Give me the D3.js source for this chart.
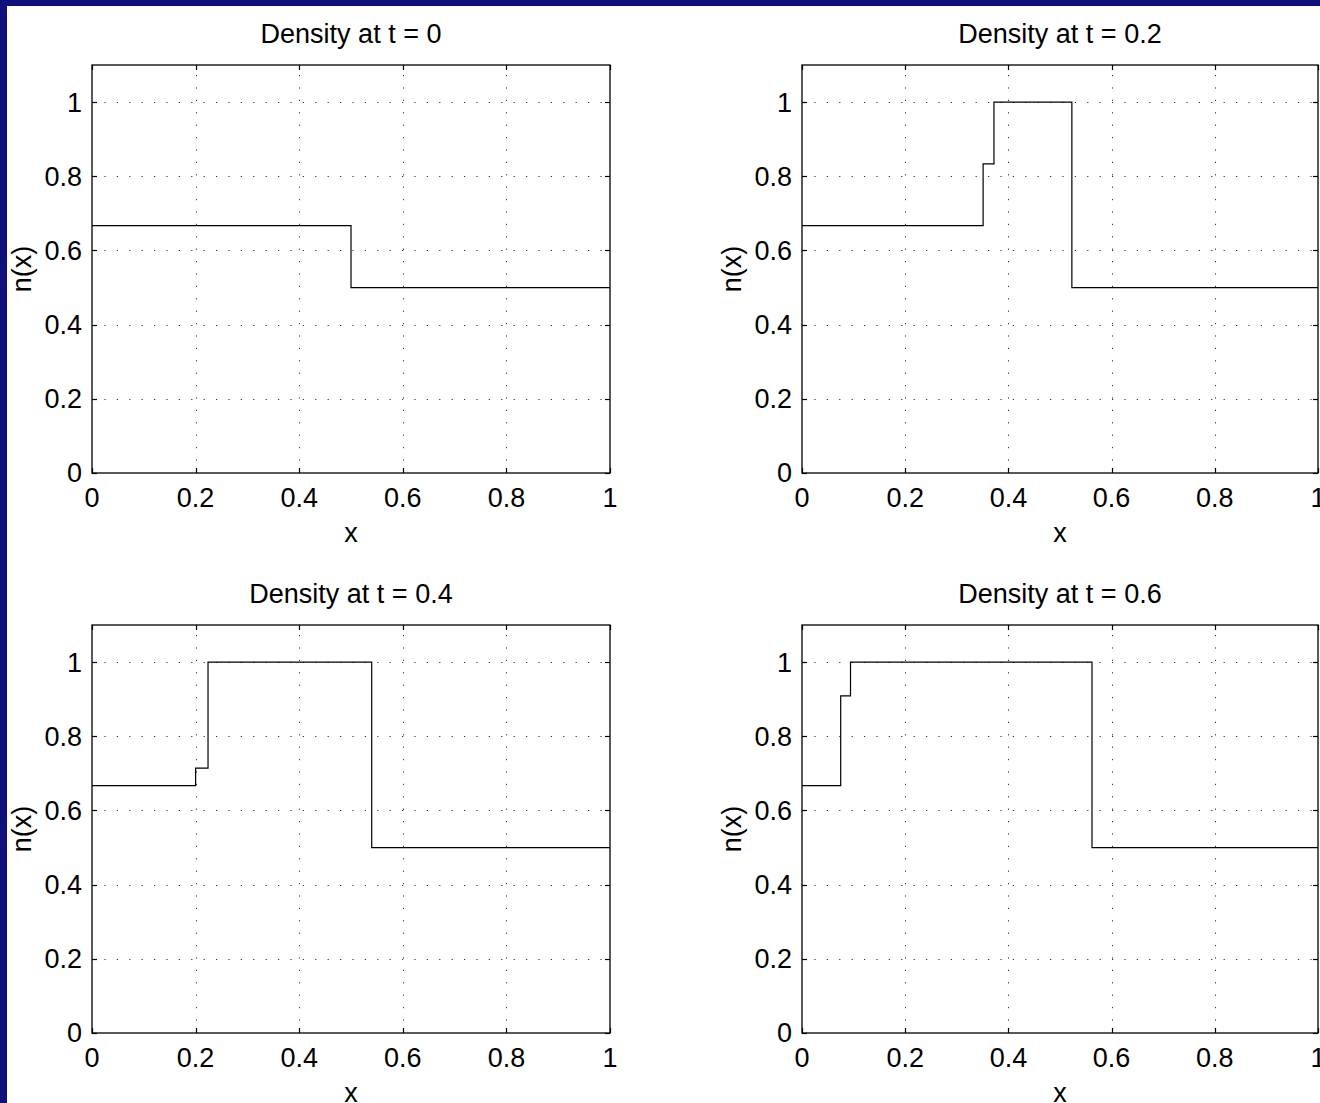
<!DOCTYPE html>
<html>
<head>
<meta charset="utf-8">
<script src="https://cdn.jsdelivr.net/npm/d3@7"></script>
<style>
  html, body { margin: 0; padding: 0; background: #10107a; }
  svg { display: block; }
  text { font-family: "Liberation Sans", Arial, Helvetica, sans-serif; fill: #000; }
</style>
</head>
<body>
<script>
// Piecewise-constant density profiles: breakpoints along x and the level on each interval
const titles = ["Density at t = 0", "Density at t = 0.2", "Density at t = 0.4", "Density at t = 0.6"];
const edges0 = [0, 0.5, 1];
const levels0 = [0.6667, 0.5];
const edges1 = [0, 0.351, 0.372, 0.523, 1];
const levels1 = [0.6667, 0.8333, 1, 0.5];
const edges2 = [0, 0.2, 0.224, 0.54, 1];
const levels2 = [0.6667, 0.7143, 1, 0.5];
const edges3 = [0, 0.075, 0.094, 0.562, 1];
const levels3 = [0.6667, 0.9091, 1, 0.5];
const xTicks = [0, 0.2, 0.4, 0.6, 0.8, 1];
const yTicks = [0, 0.2, 0.4, 0.6, 0.8, 1];
const xLabel = "x";
const yLabel = "n(x)";

const panels = [
  { title: titles[0], edges: edges0, levels: levels0 },
  { title: titles[1], edges: edges1, levels: levels1 },
  { title: titles[2], edges: edges2, levels: levels2 },
  { title: titles[3], edges: edges3, levels: levels3 }
];

const W = 1320, H = 1103;
const svg = d3.select("body").append("svg").attr("width", W).attr("height", H);

// navy frame: white figure area starts slightly inside the top-left corner
svg.append("rect").attr("x", 0).attr("y", 0).attr("width", W).attr("height", H).attr("fill", "#10107a");
svg.append("rect").attr("x", 7).attr("y", 6).attr("width", W - 7).attr("height", H - 6).attr("fill", "#fff");

// axes boxes in pixel coordinates: [left, right] per column, [top, bottom] per row
const cols = [[92, 610], [802, 1318]];
const rows = [[65, 473], [625, 1033]];
const FS = 27;

panels.forEach((p, i) => {
  const [x0, x1] = cols[i % 2];
  const [y0, y1] = rows[Math.floor(i / 2)];
  const x = d3.scaleLinear().domain([0, 1]).range([x0, x1]);
  const y = d3.scaleLinear().domain([0, 1.1]).range([y1, y0]);
  const g = svg.append("g");

  // dotted grid
  const grid = g.append("g").attr("stroke", "#333").attr("stroke-width", 1)
    .attr("stroke-dasharray", "1.2,11.2").attr("fill", "none");
  xTicks.slice(1, -1).forEach(t => {
    grid.append("line").attr("x1", Math.round(x(t)) + 0.5).attr("x2", Math.round(x(t)) + 0.5)
      .attr("y1", y1).attr("y2", y0);
  });
  yTicks.slice(1).forEach(t => {
    grid.append("line").attr("y1", Math.round(y(t)) + 0.5).attr("y2", Math.round(y(t)) + 0.5)
      .attr("x1", x0).attr("x2", x1);
  });

  // step profile
  const pts = p.levels.map((v, k) => [p.edges[k], v]);
  pts.push([p.edges[p.edges.length - 1], p.levels[p.levels.length - 1]]);
  const line = d3.line().x(d => x(d[0])).y(d => y(d[1])).curve(d3.curveStepAfter);
  g.append("path").datum(pts).attr("d", line)
    .attr("fill", "none").attr("stroke", "#000").attr("stroke-width", 1.2);

  // box
  g.append("rect").attr("x", x0).attr("y", y0).attr("width", x1 - x0).attr("height", y1 - y0)
    .attr("fill", "none").attr("stroke", "#000").attr("stroke-width", 1.3);

  // inward ticks on all four sides
  const TL = 5;
  const tk = g.append("g").attr("stroke", "#000").attr("stroke-width", 1.2);
  xTicks.forEach(t => {
    const px = Math.round(x(t)) + 0.5;
    tk.append("line").attr("x1", px).attr("x2", px).attr("y1", y1).attr("y2", y1 - TL);
    tk.append("line").attr("x1", px).attr("x2", px).attr("y1", y0).attr("y2", y0 + TL);
  });
  yTicks.forEach(t => {
    const py = Math.round(y(t)) + 0.5;
    tk.append("line").attr("y1", py).attr("y2", py).attr("x1", x0).attr("x2", x0 + TL);
    tk.append("line").attr("y1", py).attr("y2", py).attr("x1", x1).attr("x2", x1 - TL);
  });

  // tick labels
  xTicks.forEach(t => {
    g.append("text").attr("x", x(t)).attr("y", y1 + 34)
      .attr("text-anchor", "middle").attr("font-size", FS).text(d3.format("")(t));
  });
  yTicks.forEach(t => {
    g.append("text").attr("x", x0 - 10).attr("y", y(t)).attr("dy", "0.35em")
      .attr("text-anchor", "end").attr("font-size", FS).text(d3.format("")(t));
  });

  // title and axis labels
  g.append("text").attr("x", (x0 + x1) / 2).attr("y", y0 - 22)
    .attr("text-anchor", "middle").attr("font-size", FS).text(p.title);
  g.append("text").attr("x", (x0 + x1) / 2).attr("y", y1 + 69)
    .attr("text-anchor", "middle").attr("font-size", FS).text(xLabel);
  g.append("text").attr("transform", `translate(${x0 - 61},${(y0 + y1) / 2}) rotate(-90)`)
    .attr("text-anchor", "middle").attr("font-size", FS).text(yLabel);
});
</script>
</body>
</html>
